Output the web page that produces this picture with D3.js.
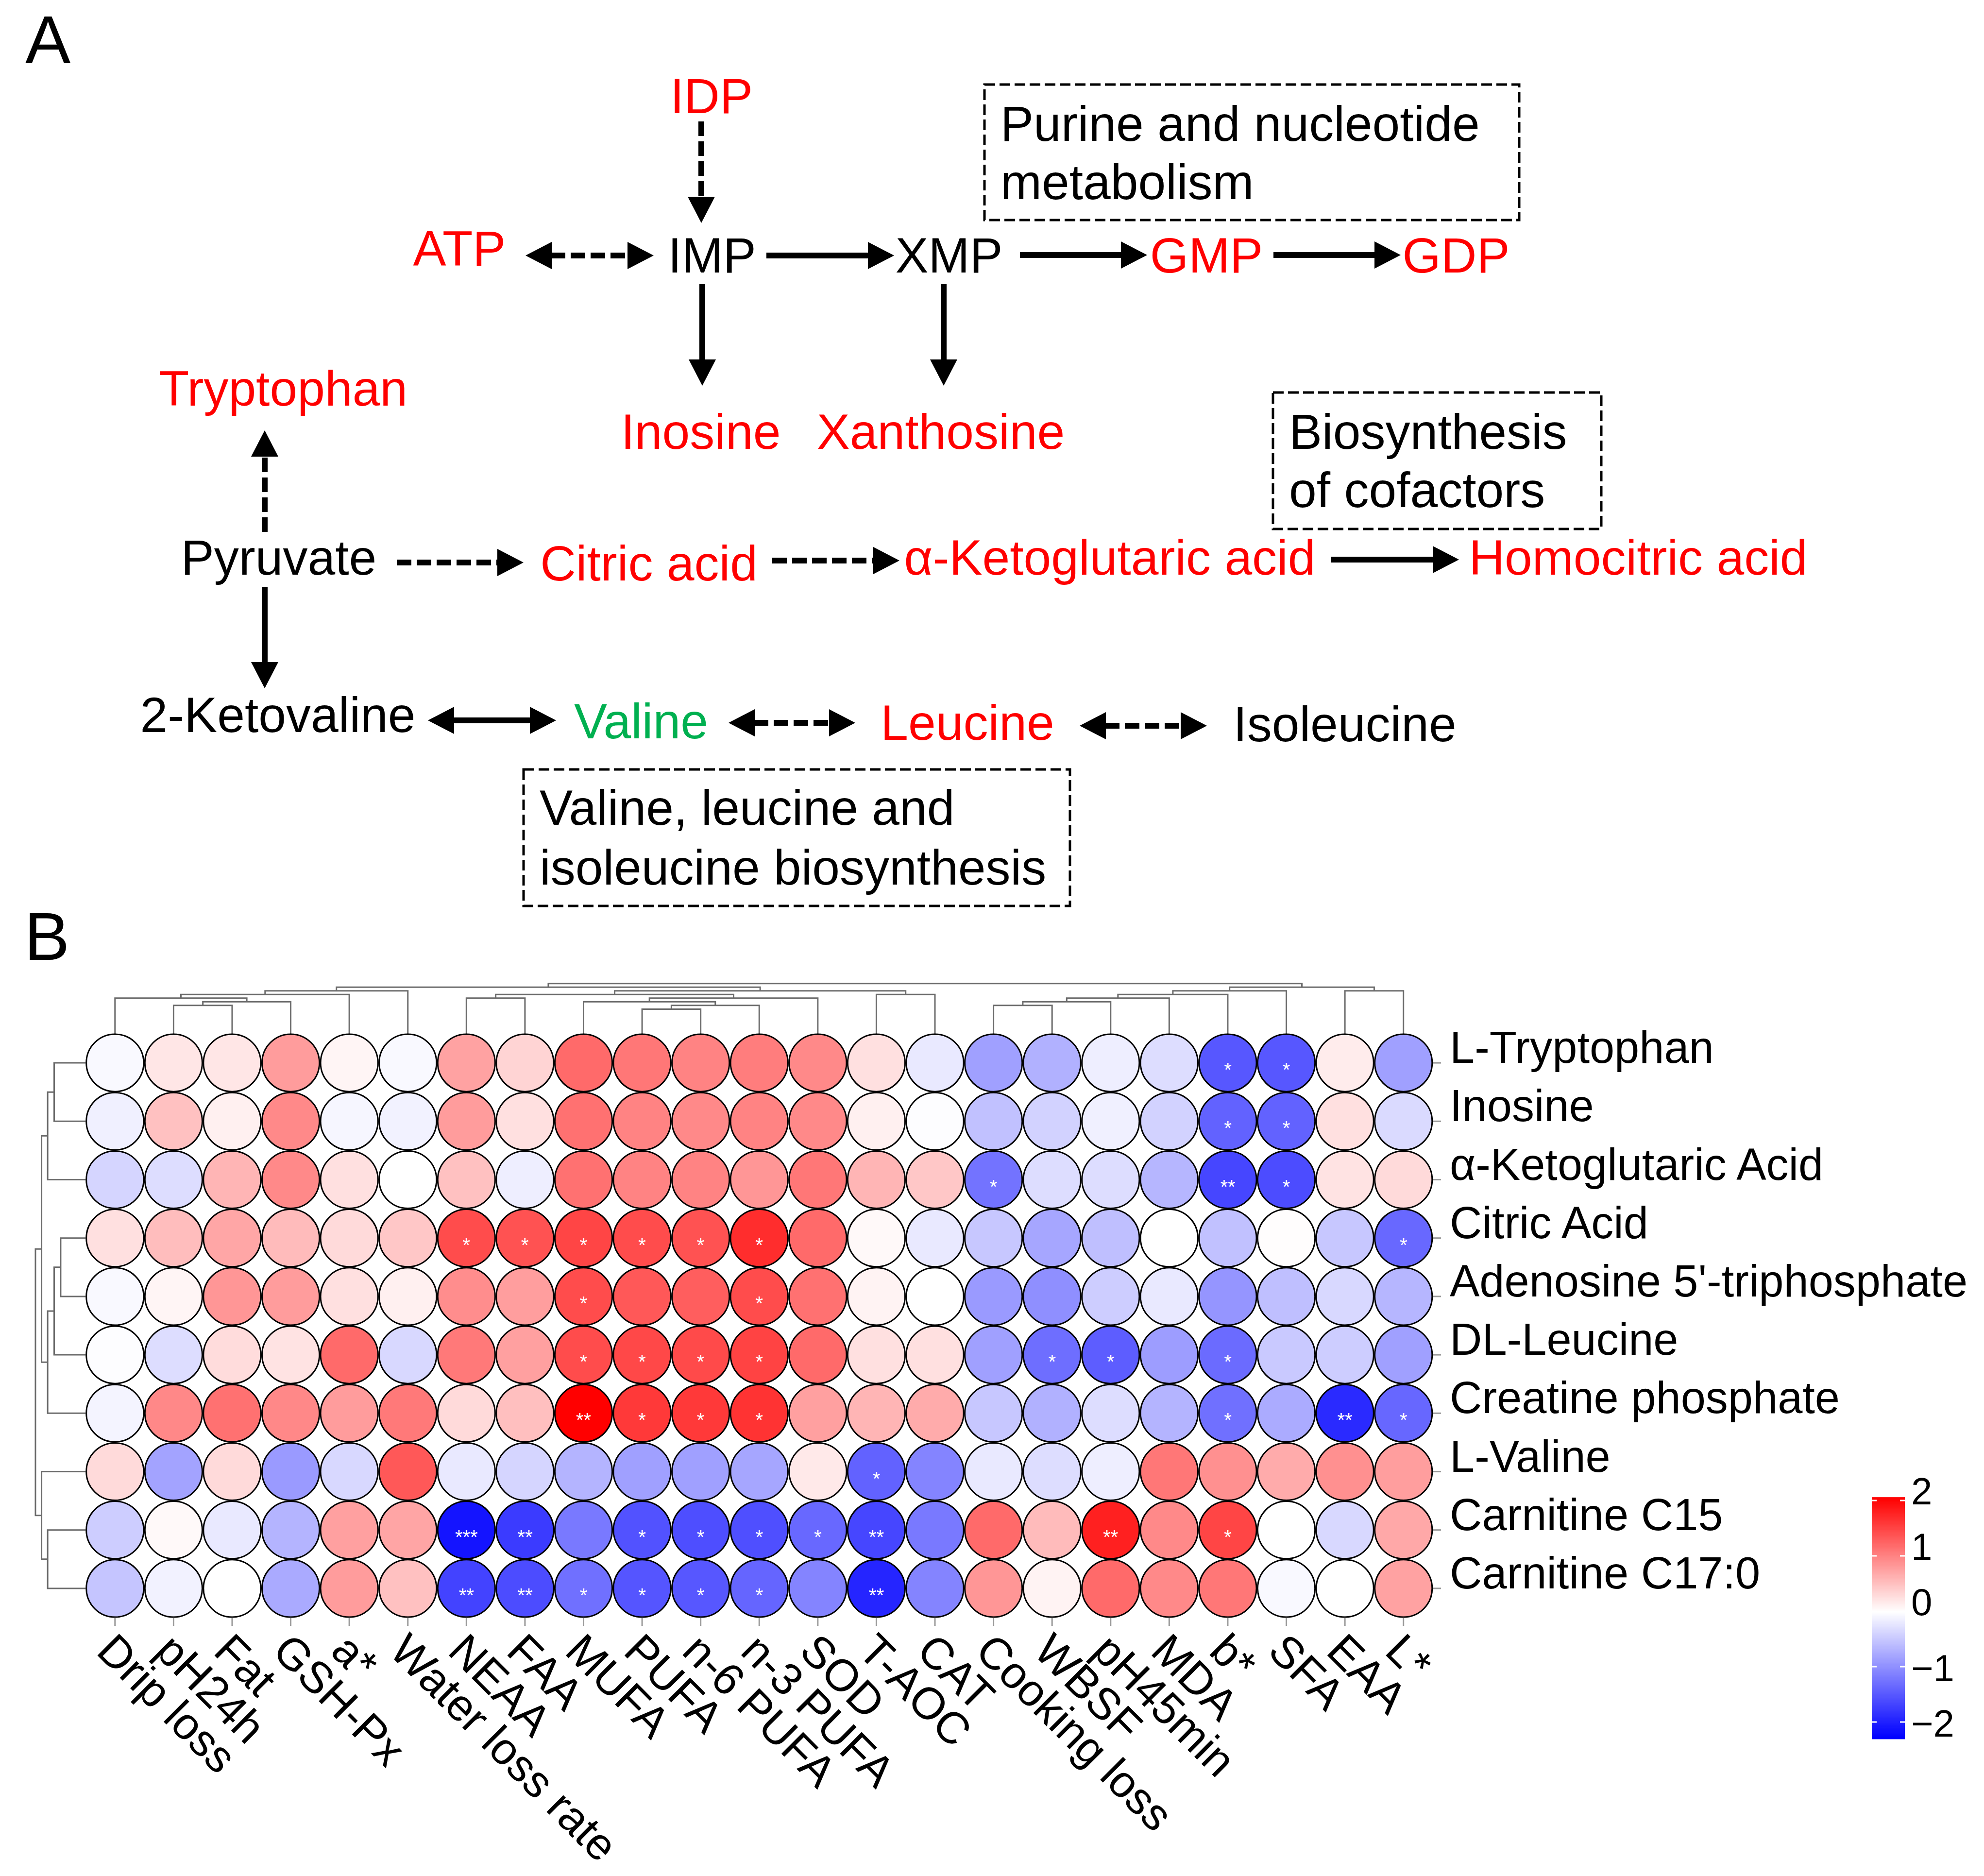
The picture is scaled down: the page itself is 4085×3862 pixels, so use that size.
<!DOCTYPE html>
<html><head><meta charset="utf-8">
<script src="https://cdn.jsdelivr.net/npm/d3@7"></script>
<style>body{margin:0;background:#fff} svg{display:block} text{font-family:"Liberation Sans",Arial,Helvetica,sans-serif}</style>
</head><body>
<script>
// ---------------- DATA ----------------
const rowNames = ["L-Tryptophan","Inosine","α-Ketoglutaric Acid","Citric Acid","Adenosine 5'-triphosphate","DL-Leucine","Creatine phosphate","L-Valine","Carnitine C15","Carnitine C17:0"];
const colNames = ["Drip loss","pH24h","Fat","GSH-Px","a*","Water loss rate","NEAA","FAA","MUFA","PUFA","n-6 PUFA","n-3 PUFA","SOD","T-AOC","CAT","Cooking loss","WBSF","pH45min","MDA","b*","SFA","EAA","L*"];
const valTryptophan = [-0.05,0.2,0.2,0.8,0.08,-0.05,0.75,0.35,1.2,1.1,1.0,1.05,0.95,0.25,-0.2,-0.85,-0.7,-0.15,-0.3,-1.5,-1.5,0.15,-0.85];
const valInosine    = [-0.13,0.5,0.12,0.95,-0.08,-0.12,0.8,0.25,1.15,1.0,0.95,1.0,0.95,0.12,-0.02,-0.55,-0.4,-0.13,-0.4,-1.4,-1.4,0.25,-0.33];
const valKeto       = [-0.38,-0.3,0.6,0.95,0.25,0,0.5,-0.15,1.15,1.0,1.0,0.85,1.1,0.6,0.45,-1.25,-0.3,-0.3,-0.65,-1.65,-1.6,0.23,0.3];
const valCitric     = [0.25,0.53,0.72,0.55,0.3,0.45,1.45,1.4,1.5,1.45,1.4,1.7,1.2,0.05,-0.2,-0.5,-0.8,-0.57,0,-0.55,0.02,-0.5,-1.35];
const valATP        = [-0.05,0.08,0.85,0.8,0.25,0.12,0.92,0.78,1.45,1.35,1.3,1.45,1.15,0.1,0,-0.9,-1.0,-0.45,-0.2,-0.95,-0.57,-0.35,-0.65];
const valLeucine    = [-0.02,-0.3,0.28,0.23,1.2,-0.35,1.08,0.77,1.45,1.48,1.46,1.52,1.2,0.25,0.25,-0.85,-1.3,-1.45,-0.88,-1.32,-0.48,-0.45,-0.85];
const valCreatine   = [-0.1,0.96,1.15,0.96,0.8,1.08,0.3,0.52,2.06,1.6,1.6,1.65,0.77,0.6,0.68,-0.5,-0.7,-0.3,-0.67,-1.28,-0.75,-1.9,-1.36];
const valValine     = [0.3,-0.82,0.3,-0.9,-0.35,1.35,-0.2,-0.38,-0.67,-0.85,-0.85,-0.8,0.18,-1.4,-1.1,-0.2,-0.3,-0.15,1.1,0.9,0.68,0.9,0.78];
const valC15        = [-0.45,0.05,-0.2,-0.67,0.77,0.73,-2.1,-1.75,-1.2,-1.55,-1.58,-1.57,-1.35,-1.65,-1.2,1.2,0.55,1.8,0.95,1.5,0,-0.35,0.7];
const valC17        = [-0.52,-0.12,0,-0.76,0.8,0.5,-1.68,-1.6,-1.28,-1.52,-1.5,-1.38,-1.1,-1.95,-1.1,0.85,0.1,1.2,0.95,1.1,-0.05,0,0.75];
const values = [valTryptophan,valInosine,valKeto,valCitric,valATP,valLeucine,valCreatine,valValine,valC15,valC17];
// number of significance stars per cell
const starTryptophan = [0,0,0,0,0,0,0,0,0,0,0,0,0,0,0,0,0,0,0,1,1,0,0];
const starInosine    = [0,0,0,0,0,0,0,0,0,0,0,0,0,0,0,0,0,0,0,1,1,0,0];
const starKeto       = [0,0,0,0,0,0,0,0,0,0,0,0,0,0,0,1,0,0,0,2,1,0,0];
const starCitric     = [0,0,0,0,0,0,1,1,1,1,1,1,0,0,0,0,0,0,0,0,0,0,1];
const starATP        = [0,0,0,0,0,0,0,0,1,0,0,1,0,0,0,0,0,0,0,0,0,0,0];
const starLeucine    = [0,0,0,0,0,0,0,0,1,1,1,1,0,0,0,0,1,1,0,1,0,0,0];
const starCreatine   = [0,0,0,0,0,0,0,0,2,1,1,1,0,0,0,0,0,0,0,1,0,2,1];
const starValine     = [0,0,0,0,0,0,0,0,0,0,0,0,0,1,0,0,0,0,0,0,0,0,0];
const starC15        = [0,0,0,0,0,0,3,2,0,1,1,1,1,2,0,0,0,2,0,1,0,0,0];
const starC17        = [0,0,0,0,0,0,2,2,1,1,1,1,0,2,0,0,0,0,0,0,0,0,0];
const stars = [starTryptophan,starInosine,starKeto,starCitric,starATP,starLeucine,starCreatine,starValine,starC15,starC17];
// hclust-style merges: negative = leaf (1-based), positive = earlier merge step (1-based); third = height
const colMerge = [[-10,-11,2.45],[-2,-3,2.82],[1,-12,2.82],[-16,-17,2.82],[2,-4,3.18],[-9,3,3.18],[4,-18,3.18],
  [-1,5,3.55],[-7,-8,3.55],[6,-13,3.55],[7,-19,3.55],[8,-5,3.91],[9,10,3.91],[-14,-15,3.91],[11,-20,3.91],
  [12,-6,4.27],[13,14,4.27],[15,-21,4.27],[-22,-23,4.27],[16,17,4.64],[18,19,4.64],[20,21,5.0]];
const rowMerge = [[-4,-5,2.48],[-1,-2,3.13],[1,-6,3.13],[2,-3,3.78],[3,-7,3.78],[-9,-10,3.78],[4,5,4.39],[-8,6,4.39],[7,8,5.0]];
const legendTicks = [2,1,0,-1,-2];
const colorDomain = [-2.28, 0, 2.06];

// Panel A diagram (layout of pathway nodes)
const nodes = [
  {t:"IDP",x:1465,y:233,c:"#ff0000"},{t:"ATP",x:946,y:547,c:"#ff0000"},{t:"IMP",x:1466,y:561,c:"#000"},
  {t:"XMP",x:1954,y:561,c:"#000"},{t:"GMP",x:2484,y:561,c:"#ff0000"},{t:"GDP",x:2998,y:561,c:"#ff0000"},
  {t:"Inosine",x:1443,y:924,c:"#ff0000"},{t:"Xanthosine",x:1937,y:924,c:"#ff0000"},
  {t:"Tryptophan",x:583,y:835,c:"#ff0000"},{t:"Pyruvate",x:574,y:1183,c:"#000"},
  {t:"Citric acid",x:1336,y:1195,c:"#ff0000"},{t:"α-Ketoglutaric acid",x:2285,y:1183,c:"#ff0000"},
  {t:"Homocitric acid",x:3373,y:1183,c:"#ff0000"},{t:"2-Ketovaline",x:572,y:1507,c:"#000"},
  {t:"Valine",x:1320,y:1520,c:"#00b050"},{t:"Leucine",x:1992,y:1523,c:"#ff0000"},{t:"Isoleucine",x:2769,y:1526,c:"#000"}];
const arrows = [
  {a:[1444,250],b:[1444,459],d:true,two:false},{a:[1082,526],b:[1346,526],d:true,two:true},
  {a:[1578,526],b:[1841,526],d:false,two:false},{a:[2100,525],b:[2362,525],d:false,two:false},
  {a:[2622,525],b:[2884,525],d:false,two:false},{a:[1446,585],b:[1446,794],d:false,two:false},
  {a:[1943,585],b:[1943,794],d:false,two:false},{a:[545,1095],b:[545,886],d:true,two:false},
  {a:[817,1158],b:[1078,1158],d:true,two:false},{a:[1590,1154],b:[1852,1154],d:true,two:false},
  {a:[2741,1152],b:[3004,1152],d:false,two:false},{a:[545,1208],b:[545,1417],d:false,two:false},
  {a:[881,1483],b:[1145,1483],d:false,two:true},{a:[1500,1488],b:[1761,1488],d:true,two:true},
  {a:[2223,1494],b:[2485,1494],d:true,two:true}];
const boxes = [
  {x0:2027,y0:174,x1:3128,y1:453,lines:["Purine and nucleotide","metabolism"],ty:[290,410]},
  {x0:2621,y0:808,x1:3297,y1:1089,lines:["Biosynthesis","of cofactors"],ty:[924,1044]},
  {x0:1078,y0:1584,x1:2203,y1:1865,lines:["Valine, leucine and","isoleucine biosynthesis"],ty:[1698,1821]}];

// ---------------- DRAW ----------------
const W=4085,H=3862;
const svg = d3.select("body").append("svg").attr("width",W).attr("height",H);
svg.append("rect").attr("width",W).attr("height",H).attr("fill","#fff");

svg.append("text").attr("x",52).attr("y",130).attr("font-size",140).text("A");
svg.append("text").attr("x",50).attr("y",1976).attr("font-size",140).text("B");

// Panel A
const gA = svg.append("g");
gA.selectAll("text.node").data(nodes).join("text").attr("class","node")
  .attr("x",d=>d.x).attr("y",d=>d.y).attr("text-anchor","middle").attr("font-size",102)
  .attr("fill",d=>d.c).text(d=>d.t);
const HL=54, HW=28, LW=12;
function head(tip, dir){
  const [tx,ty]=tip,[dx,dy]=dir, bx=tx-dx*HL, by=ty-dy*HL, px=-dy, py=dx;
  return `M${tx},${ty}L${bx+px*HW},${by+py*HW}L${bx-px*HW},${by-py*HW}Z`;
}
arrows.forEach(ar=>{
  const [x1,y1]=ar.a,[x2,y2]=ar.b, len=Math.hypot(x2-x1,y2-y1), dx=(x2-x1)/len, dy=(y2-y1)/len;
  const s = ar.two ? HL-2 : 0, e = HL-2;
  gA.append("line").attr("x1",x1+dx*s).attr("y1",y1+dy*s).attr("x2",x2-dx*e).attr("y2",y2-dy*e)
    .attr("stroke","#000").attr("stroke-width",LW).attr("stroke-dasharray",ar.d?"30,11":null);
  gA.append("path").attr("d",head([x2,y2],[dx,dy])).attr("fill","#000");
  if(ar.two) gA.append("path").attr("d",head([x1,y1],[-dx,-dy])).attr("fill","#000");
});
boxes.forEach(b=>{
  gA.append("rect").attr("x",b.x0).attr("y",b.y0).attr("width",b.x1-b.x0).attr("height",b.y1-b.y0)
    .attr("fill","none").attr("stroke","#000").attr("stroke-width",5).attr("stroke-dasharray","22,9");
  b.lines.forEach((l,i)=>gA.append("text").attr("x",b.x0+33).attr("y",b.ty[i]).attr("font-size",102).text(l));
});

// Panel B heatmap
const x = d3.scaleBand().domain(colNames).range([176.5,2950]);
const y = d3.scaleBand().domain(rowNames).range([2128,3330]);
const cx = n => x(n)+x.bandwidth()/2, cy = n => y(n)+y.bandwidth()/2;
const color = d3.scaleLinear().domain(colorDomain).range(["#0000ff","#ffffff","#ff0000"]);
const r = Math.min(x.bandwidth(),y.bandwidth())/2;

// dendrograms
function buildTree(merge, names, pos){
  const made=[];
  const get = k => k<0 ? {name:names[-k-1], h:0, p:pos(names[-k-1])} : made[k-1];
  merge.forEach(([a,b,h])=>{ const A=get(a),B=get(b); made.push({h, children:[A,B], p:(A.p+B.p)/2}); });
  return d3.hierarchy(made[made.length-1]);
}
const dendroStroke = "#6b6b6b";
const colH = d3.scaleLinear().domain([0,5]).range([2128,2024.7]);
const colTree = buildTree(colMerge, colNames, cx);
const gD = svg.append("g").attr("fill","none").attr("stroke",dendroStroke).attr("stroke-width",3);
colTree.descendants().filter(d=>d.children).forEach(d=>{
  const [L,R]=d.children, yh=colH(d.data.h);
  gD.append("path").attr("d",`M${L.data.p},${colH(L.data.h)}V${yh}H${R.data.p}V${colH(R.data.h)}`);
});
const rowH = d3.scaleLinear().domain([0,5]).range([176,73]);
const rowTree = buildTree(rowMerge, rowNames, cy);
rowTree.descendants().filter(d=>d.children).forEach(d=>{
  const [T,B]=d.children, xh=rowH(d.data.h);
  gD.append("path").attr("d",`M${rowH(T.data.h)},${T.data.p}H${xh}V${B.data.p}H${rowH(B.data.h)}`);
});

// cells
const cells = [];
rowNames.forEach((rn,i)=>colNames.forEach((cn,j)=>cells.push({rn,cn,v:values[i][j],s:stars[i][j]})));
const gC = svg.append("g");
gC.selectAll("circle").data(cells).join("circle")
  .attr("cx",d=>cx(d.cn)).attr("cy",d=>cy(d.rn)).attr("r",r-1)
  .attr("fill",d=>color(d.v)).attr("stroke","#000").attr("stroke-width",3);
gC.selectAll("text").data(cells.filter(d=>d.s>0)).join("text")
  .attr("x",d=>cx(d.cn)).attr("y",d=>cy(d.rn)+28).attr("text-anchor","middle")
  .attr("font-size",40).attr("fill","#fff").text(d=>"*".repeat(d.s));

// ticks + labels
const gT = svg.append("g").attr("stroke","#999").attr("stroke-width",3);
colNames.forEach(c=>gT.append("line").attr("x1",cx(c)).attr("x2",cx(c)).attr("y1",3330).attr("y2",3347));
rowNames.forEach(rn=>gT.append("line").attr("x1",2950).attr("x2",2967).attr("y1",cy(rn)).attr("y2",cy(rn)));
svg.append("g").selectAll("text").data(rowNames).join("text")
  .attr("x",2985).attr("y",d=>cy(d)).attr("font-size",92).text(d=>d);
svg.append("g").selectAll("text").data(colNames).join("text")
  .attr("transform",d=>`translate(${cx(d)},3361) rotate(45)`).attr("dy","0.64em")
  .attr("font-size",92).text(d=>d);

// legend colorbar
const ly = d3.scaleLinear().domain([2,-2]).range([3089,3545]);
const gL = svg.append("g");
const steps = d3.range(0,201).map(i=>colorDomain[2]+(colorDomain[0]-colorDomain[2])*i/200);
gL.selectAll("rect").data(steps).join("rect")
  .attr("x",3854).attr("width",68).attr("y",d=>ly(d)).attr("height",Math.abs(ly(0)-ly((colorDomain[0]-colorDomain[2])/200))+1)
  .attr("fill",d=>color(d));
legendTicks.forEach(t=>{
  gL.append("line").attr("x1",3854).attr("x2",3864).attr("y1",ly(t)).attr("y2",ly(t)).attr("stroke","#fff").attr("stroke-width",3);
  gL.append("line").attr("x1",3912).attr("x2",3922).attr("y1",ly(t)).attr("y2",ly(t)).attr("stroke","#fff").attr("stroke-width",3);
  gL.append("text").attr("x",3935).attr("y",ly(t)+(t<0?30:8)).attr("font-size",78).text(t<0?"\u2212"+Math.abs(t):String(t));
});
</script>
</body></html>
